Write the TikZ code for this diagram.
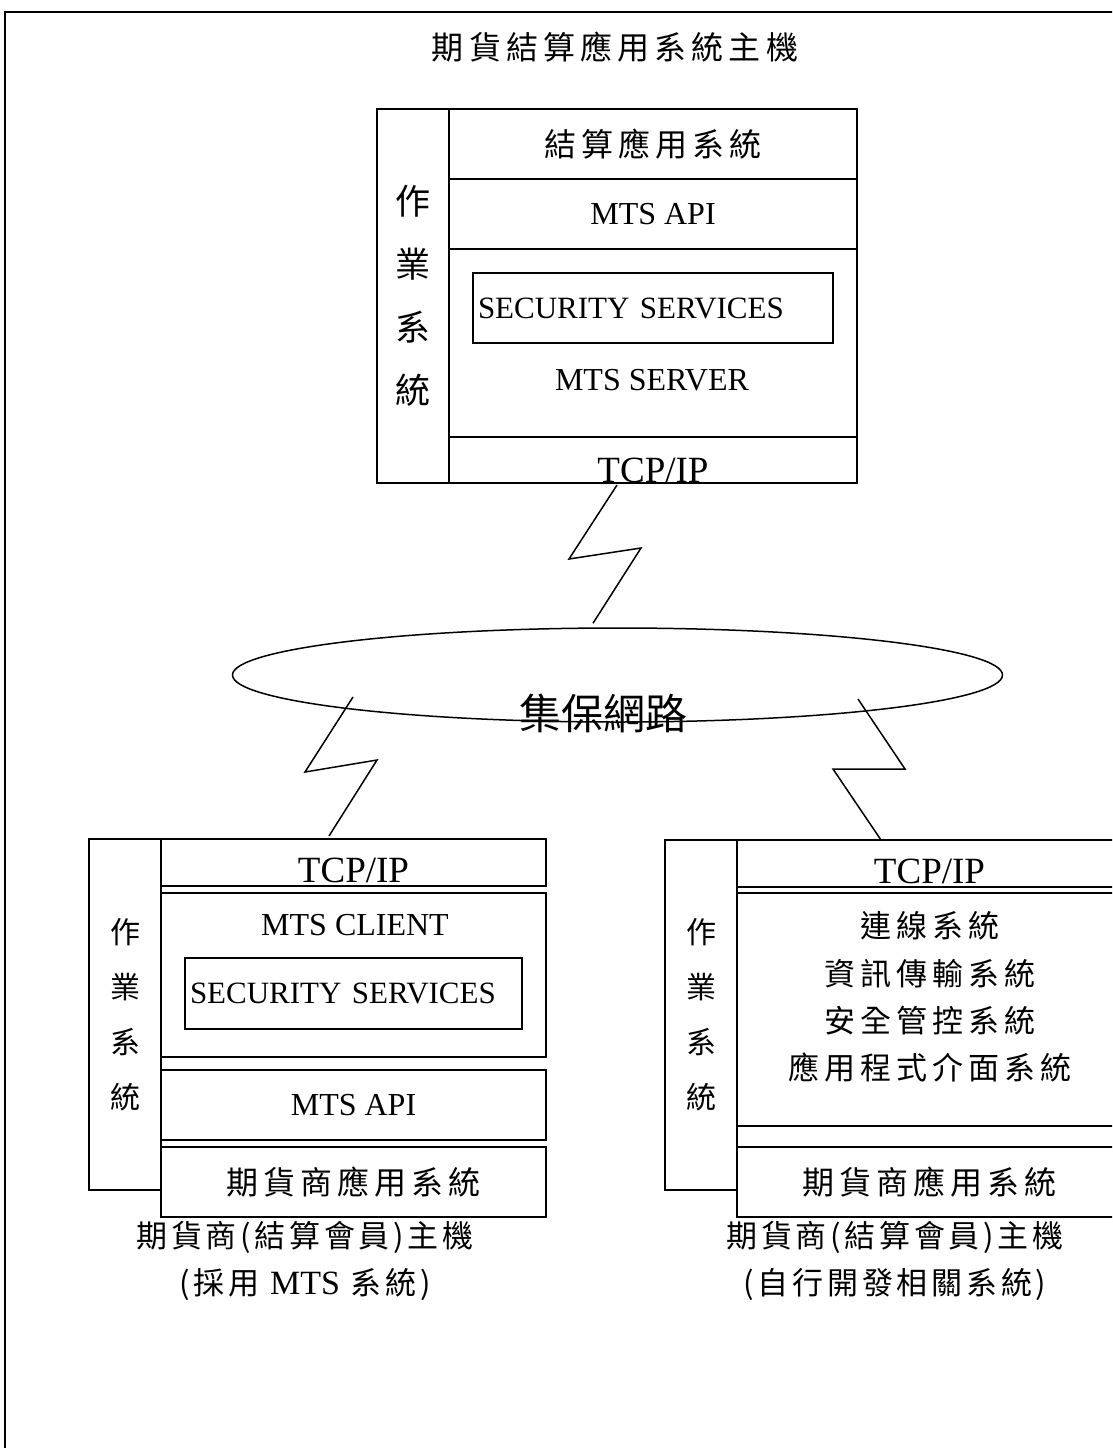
\documentclass[tikz,border=0pt]{standalone}
\usepackage{fontspec}
\setmainfont{Liberation Serif}
\newfontfamily\zhsp[LetterSpace=16]{Noto Sans CJK TC}
\newfontfamily\zhlab[LetterSpace=12]{Noto Sans CJK TC}
\newfontfamily\zhplain{Noto Sans CJK TC}
\usetikzlibrary{positioning,shapes.geometric}

\begin{document}
\begin{tikzpicture}[
    x=1pt, y=-1pt,
    layer/.style={rectangle, draw, line width=1.5pt, inner sep=0pt, outer sep=0pt},
    zh/.style={font=\zhsp\fontsize{32}{38}\selectfont},
    en/.style={font=\fontsize{32}{38}\selectfont},
    tcp/.style={font=\fontsize{37}{42}\selectfont, inner sep=0pt, anchor=base},
    os/.style={layer, minimum width=72pt, align=center, anchor=north east},
    sec/.style={layer, font=\fontsize{31}{36}\selectfont, inner xsep=5pt, align=left},
    link/.style={line width=1.5pt},
    node distance=0pt
]
\useasboundingbox (0,0) rectangle (1112,1448);
\clip (0,0) rectangle (1112,1448);

% outer frame
\draw[line width=2pt] (5,1470) |- (1130,12);

% clearing host
\node[zh] (title) at (615,47) {期貨結算應用系統主機};
\node[layer, zh, minimum width=408pt, minimum height=70pt] (tapp) at (653,144) {結算應用系統};
\node[layer, en, minimum width=408pt, minimum height=70pt, below=of tapp] (tapi) {MTS API};
\node[layer, minimum width=408pt, minimum height=188pt, below=of tapi] (tsrv) {};
\node[layer, minimum width=408pt, minimum height=46pt, below=of tsrv] (ttcp) {};
\node[os, minimum height=374pt, font=\zhplain\fontsize{35}{63}\selectfont] (tos) at (tapp.north west) {作\\業\\系\\統};
\node[sec, text width=350pt, minimum height=70pt] (tsec) at (653,308) {SECURITY SERVICES};
\node[en] (tsrvtxt) at (652,380) {MTS SERVER};
\node[tcp] (ttcptxt) at ([yshift=1pt]ttcp.south) {TCP/IP};

% network
\node[ellipse, draw, line width=1.5pt, minimum width=770pt, minimum height=94pt, inner sep=0pt] (net) at (617.5,675) {};
\node[font=\zhplain\fontsize{42}{48}\selectfont] (nettxt) at (603,713) {集保網路};

% member host, MTS
\node[layer, minimum width=385pt, minimum height=47pt] (ltcp) at (353.5,862.5) {};
\node[tcp] (ltcptxt) at ([yshift=4pt]ltcp.south) {TCP/IP};
\node[layer, minimum width=385pt, minimum height=164pt, below=7pt of ltcp] (lcli) {};
\node[en] (lclitxt) at (355,925) {MTS CLIENT};
\node[sec, text width=327pt, minimum height=71pt] (lsec) at (353.5,993.5) {SECURITY SERVICES};
\node[layer, en, minimum width=385pt, minimum height=70pt, below=13pt of lcli] (lapi) {MTS API};
\node[layer, zh, minimum width=385pt, minimum height=70pt, below=7pt of lapi] (lapp) {期貨商應用系統};
\node[os, minimum height=351pt, font=\zhplain\fontsize{30}{55}\selectfont] (los) at (ltcp.north west) {作\\業\\系\\統};

% member host, own system
\node[layer, minimum width=385pt, minimum height=47pt] (rtcp) at (929.5,863.5) {};
\node[tcp] (rtcptxt) at ([yshift=4pt]rtcp.south) {TCP/IP};
\node[layer, minimum width=385pt, minimum height=233pt, below=6pt of rtcp] (rsys) {};
\node[align=center, font=\zhsp\fontsize{31}{47.3}\selectfont] (rsystxt) at (930,997) {連線系統\\資訊傳輸系統\\安全管控系統\\應用程式介面系統};
\node[layer, zh, minimum width=385pt, minimum height=70pt, below=21pt of rsys] (rapp) {期貨商應用系統};
\node[os, minimum height=350pt, font=\zhplain\fontsize{30}{55}\selectfont] (ros) at (rtcp.north west) {作\\業\\系\\統};

% captions
\node[align=center, font=\zhlab\fontsize{31}{47}\selectfont] (lcap) at (305,1261) {期貨商(結算會員)主機\\(採用 {\rmfamily\fontsize{34}{47}\selectfont MTS} 系統)};
\node[align=center, font=\zhlab\fontsize{31}{47}\selectfont] (rcap) at (895,1261) {期貨商(結算會員)主機\\(自行開發相關系統)};

% links
\draw[link] ([xshift=-36pt, yshift=-2pt]ttcp.south) -- ++(-48,74) -- ++(72,-11) -- ([xshift=-24.5pt, yshift=4pt]net.north);
\draw[link] ([xshift=-24.5pt, yshift=3pt]ltcp.north) -- ++(48,-76) -- ++(-72,12) -- ++(48,-75);
\draw[link] ([xshift=-48.5pt]rtcp.north) -- ++(-48,-71) -- ++(72,0) -- ++(-47,-70);
\end{tikzpicture}
\end{document}
